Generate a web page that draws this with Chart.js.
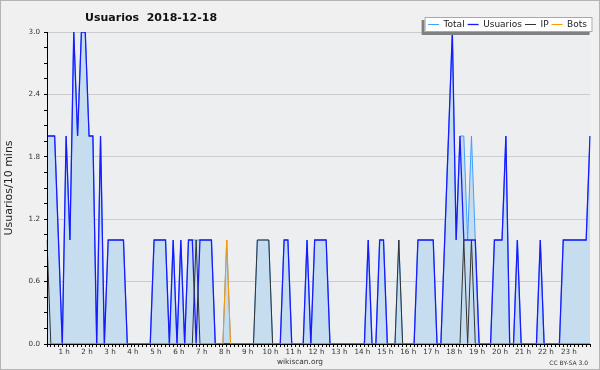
<!DOCTYPE html>
<html>
<head>
<meta charset="utf-8">
<script src="https://cdn.jsdelivr.net/npm/chart.js@4"></script>
<style>
  html, body { margin: 0; padding: 0; background: #f0f0f0; }
</style>
</head>
<body>
<canvas id="c" width="600" height="370"></canvas>
<script>
// values per 10-minute slot
const chartTitle = 'Usuarios  2018-12-18';
const axisTitle = 'Usuarios/10 mins';
const hourLabels = ['1 h','2 h','3 h','4 h','5 h','6 h','7 h','8 h','9 h','10 h','11 h','12 h',
  '13 h','14 h','15 h','16 h','17 h','18 h','19 h','20 h','21 h','22 h','23 h'];

const total = [
  2,2,2,1,0,2,1,3,2,3,  3,2,2,0,2,0,1,1,1,1,  1,0,0,0,0,0,0,0,1,1,
  1,1,0,1,0,1,0,1,1,1,  1,1,1,1,0,0,0,1,0,0,  0,0,0,0,0,1,1,1,1,0,
  0,0,1,1,0,0,0,0,1,0,  1,1,1,1,0,0,0,0,0,0,  0,0,0,0,1,0,0,1,1,0,
  0,0,1,0,0,0,0,1,1,1,  1,1,0,0,1,2,3,1,2,2,  1,2,1,0,0,0,0,1,1,1,
  2,0,0,1,0,0,0,0,0,1,  0,0,0,0,0,1,1,1,1,1,  1,1,2
];
const usuarios = [
  2,2,2,1,0,2,1,3,2,3,  3,2,2,0,2,0,1,1,1,1,  1,0,0,0,0,0,0,0,1,1,
  1,1,0,1,0,1,0,1,1,0,  1,1,1,1,0,0,0,0,0,0,  0,0,0,0,0,0,0,0,0,0,
  0,0,1,1,0,0,0,0,1,0,  1,1,1,1,0,0,0,0,0,0,  0,0,0,0,1,0,0,1,1,0,
  0,0,0,0,0,0,0,1,1,1,  1,1,0,0,1,2,3,1,2,1,  1,1,1,0,0,0,0,1,1,1,
  2,0,0,1,0,0,0,0,0,1,  0,0,0,0,0,1,1,1,1,1,  1,1,2
];
const ip = [
  1,0,0,0,0,0,0,0,0,0,  0,0,0,0,0,0,0,0,0,0,  0,0,0,0,0,0,0,0,0,0,
  0,0,0,0,0,0,0,0,0,1,  0,0,0,0,0,0,0,0,0,0,  0,0,0,0,0,1,1,1,1,0,
  0,0,0,0,0,0,0,0,0,0,  0,0,0,0,0,0,0,0,0,0,  0,0,0,0,0,0,0,0,0,0,
  0,0,1,0,0,0,0,0,0,0,  0,0,0,0,0,0,0,0,0,1,  0,1,0,0,0,0,0,0,0,0,
  0,0,0,0,0,0,0,0,0,0,  0,0,0,0,0,0,0,0,0,0,  0,0,0
];
const bots = [
  0,0,0,0,0,0,0,0,0,0,  0,0,0,0,0,0,0,0,0,0,  0,0,0,0,0,0,0,0,0,0,
  0,0,0,0,0,0,0,0,0,0,  0,0,0,0,0,0,0,1,0,0,  0,0,0,0,0,0,0,0,0,0,
  0,0,0,0,0,0,0,0,0,0,  0,0,0,0,0,0,0,0,0,0,  0,0,0,0,0,0,0,0,0,0,
  0,0,0,0,0,0,0,0,0,0,  0,0,0,0,0,0,0,0,0,0,  0,0,0,0,0,0,0,0,0,0,
  0,0,0,0,0,0,0,0,0,0,  0,0,0,0,0,0,0,0,0,0,  0,0,0
];

// one category per slot, named by the end of the slot (00:10, 00:20, ...)
const slots = usuarios.map((_, i) => {
  const m = (i + 1) * 10;
  return String(Math.floor(m / 60)).padStart(2, '0') + ':' + String(m % 60).padStart(2, '0');
});

const FONT = 'DejaVu Sans';

const frame = {
  id: 'frame',
  afterLayout(chart) {
    // legend sits lower than chart.js would put it, touching the plot top
    const lg = chart.legend;
    lg.top += 7;
    lg.bottom += 7;
  },
  beforeDraw(chart) {
    const { ctx, chartArea: a } = chart;
    ctx.save();
    ctx.fillStyle = '#f0f0f0';
    ctx.fillRect(0, 0, chart.width, chart.height);
    ctx.fillStyle = '#edeef0';
    ctx.fillRect(a.left, a.top, a.right - a.left, a.bottom - a.top);
    ctx.strokeStyle = '#b4b4b4';
    ctx.lineWidth = 1;
    ctx.strokeRect(0.5, 0.5, chart.width - 1, chart.height - 1);
    ctx.restore();
  },
  afterDatasetsDraw(chart) {
    // white legend box with shadow covers the lines, then repaint the legend on it
    const { ctx } = chart;
    const lg = chart.legend;
    if (!lg || !lg.lineWidths) return;
    const pad = lg.options.labels.padding;
    const x0 = lg.right - lg.lineWidths[0] - 3.5;
    const x1 = lg.right - pad + 5.5;
    const cy = lg.top + pad + 4.5;
    const y0 = cy - 7.5, y1 = cy + 7.5;
    ctx.save();
    ctx.fillStyle = '#808080';
    ctx.fillRect(x0 - 3, y0 + 3, x1 - x0, y1 - y0);
    ctx.fillStyle = '#ffffff';
    ctx.fillRect(x0, y0, x1 - x0, y1 - y0);
    ctx.strokeStyle = '#a8a8a8';
    ctx.strokeRect(x0 + 0.5, y0 + 0.5, x1 - x0 - 1, y1 - y0 - 1);
    ctx.restore();
    lg.draw();
  },
  afterDraw(chart) {
    const { ctx } = chart;
    ctx.save();
    ctx.fillStyle = '#111';
    ctx.textAlign = 'left';
    ctx.textBaseline = 'alphabetic';
    ctx.font = 'bold 11px "' + FONT + '"';
    ctx.fillText(chartTitle, 85, 21);
    ctx.fillStyle = '#333';
    ctx.textAlign = 'center';
    ctx.font = '7.4px "' + FONT + '"';
    ctx.fillText('wikiscan.org', 300, 364);
    ctx.textAlign = 'right';
    ctx.font = '6px "' + FONT + '"';
    ctx.fillText('CC BY-SA 3.0', 588, 365);
    ctx.restore();
  }
};

new Chart(document.getElementById('c'), {
  type: 'line',
  data: {
    labels: slots,
    datasets: [
      { label: 'Total', data: total, borderColor: '#3f9fff', backgroundColor: '#c6ddf0',
        fill: 'origin', borderWidth: 1, order: 4 },
      { label: 'Usuarios', data: usuarios, borderColor: '#1a1aff', backgroundColor: '#1a1aff',
        fill: false, borderWidth: 1.3, order: 3 },
      { label: 'IP', data: ip, borderColor: '#333333', backgroundColor: '#333333',
        fill: false, borderWidth: 1, order: 2 },
      { label: 'Bots', data: bots, borderColor: '#ff9900', backgroundColor: '#ff9900',
        fill: false, borderWidth: 1, order: 1 }
    ]
  },
  options: {
    responsive: false,
    animation: false,
    devicePixelRatio: 1,
    layout: { padding: { top: 10, right: 10, bottom: 0, left: 0 } },
    elements: { point: { radius: 0 }, line: { tension: 0 } },
    plugins: {
      title: { display: false },
      tooltip: { enabled: false },
      legend: {
        position: 'top',
        align: 'end',
        labels: {
          usePointStyle: true,
          pointStyle: 'line',
          pointStyleWidth: 11,
          padding: 3,
          color: '#222',
          font: { family: FONT, size: 9 },
          sort: (a, b) => a.datasetIndex - b.datasetIndex
        }
      }
    },
    scales: {
      x: {
        type: 'category',
        offset: false,
        afterFit: s => { s.height = 26; },
        border: { display: true, color: '#000', width: 1, z: 1 },
        grid: { drawOnChartArea: false, drawTicks: true, tickLength: 3, color: '#000', tickColor: '#000' },
        ticks: {
          autoSkip: false, maxRotation: 0, minRotation: 0, padding: 1, labelOffset: -2,
          color: '#333', font: { family: FONT, size: 7.2 },
          callback: (v, i) => {
            const m = (i + 1) * 10;
            return m % 60 === 0 ? hourLabels[m / 60 - 1] : '';
          }
        }
      },
      y: {
        min: 0,
        max: 3,
        afterFit: s => { s.width = 47; },
        border: { display: true, color: '#000', width: 1, z: 1 },
        grid: {
          color: c => (c.index % 4 === 0 ? '#cccccc' : 'rgba(0,0,0,0)'),
          tickColor: '#000',
          tickLength: 3
        },
        ticks: {
          stepSize: 0.15, autoSkip: false, padding: 4,
          color: '#333', font: { family: FONT, size: 7.2 },
          callback: (v, i) => (i % 4 === 0 ? v.toFixed(1) : '')
        },
        title: {
          display: true, text: axisTitle, color: '#222',
          font: { family: FONT, size: 11 }, padding: { top: 3, bottom: 0 }
        }
      }
    }
  },
  plugins: [frame]
});
</script>
</body>
</html>
